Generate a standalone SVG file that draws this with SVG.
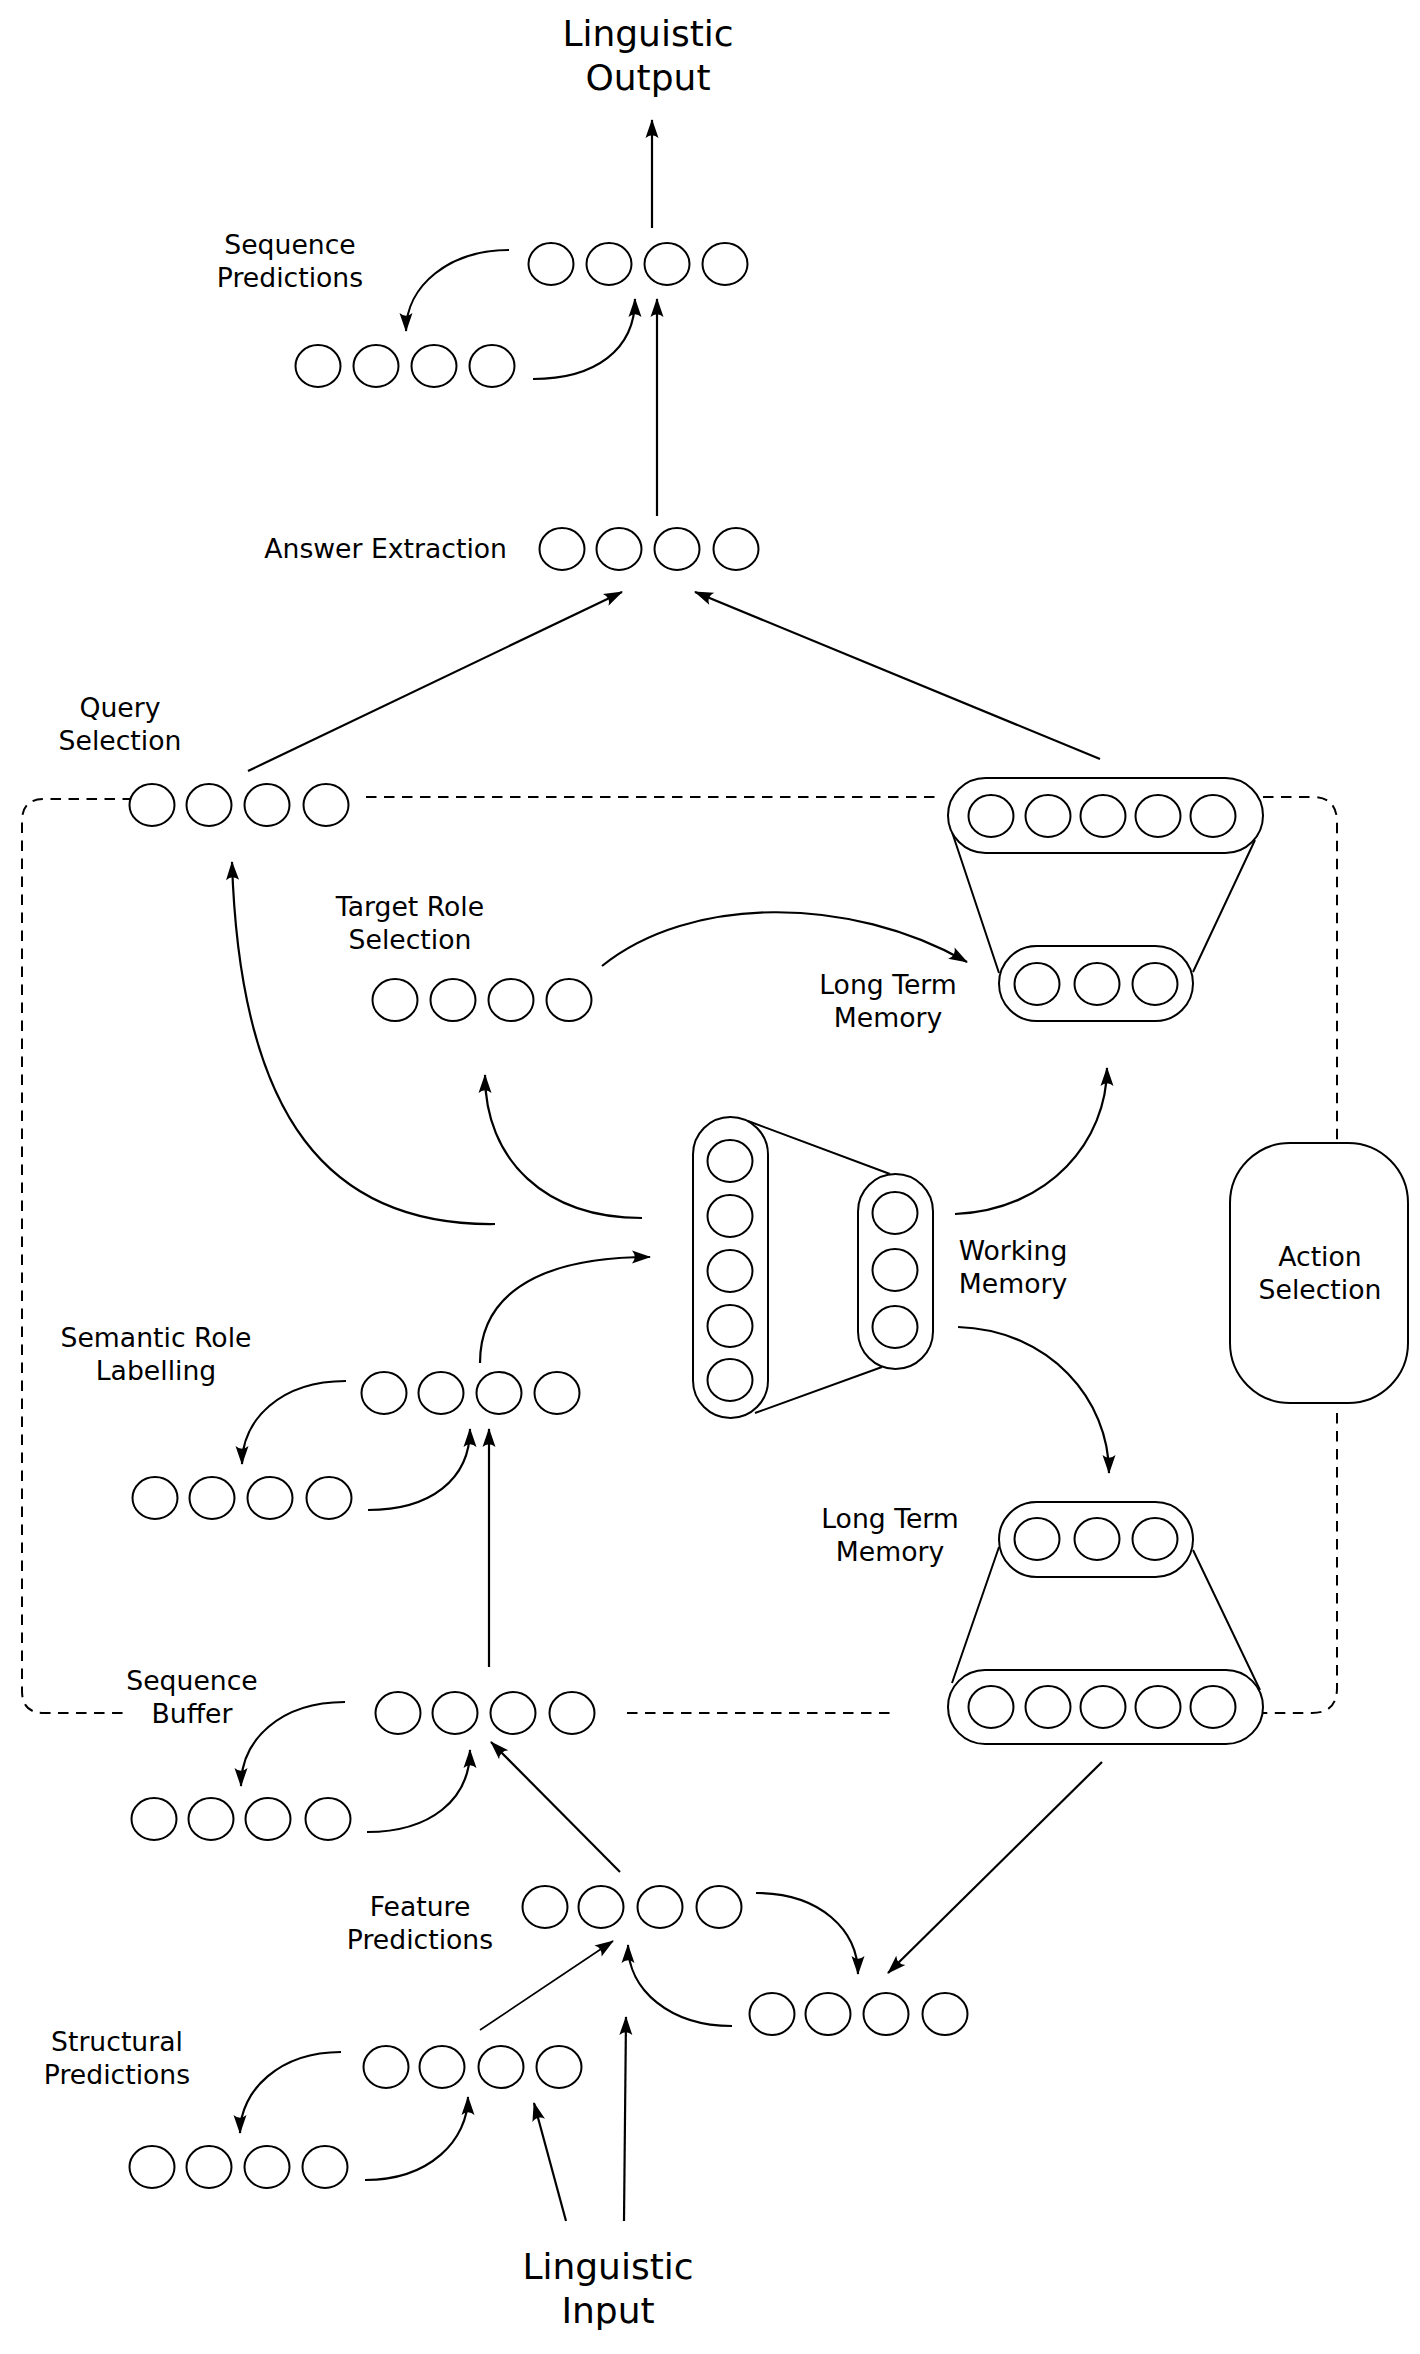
<svg xmlns="http://www.w3.org/2000/svg" width="1420" height="2354" viewBox="0 0 1420 2354">
<style>
.u{fill:#fff;stroke:#000;stroke-width:2}
.n{fill:none;stroke:#000;stroke-width:2}
.c{fill:none;stroke:#000;stroke-width:2.2}
.thin{fill:none;stroke:#000;stroke-width:1.7}
.d{fill:none;stroke:#000;stroke-width:2;stroke-dasharray:10.5,7.5}
text{font-family:"DejaVu Sans","Liberation Sans",sans-serif;font-size:26.67px;fill:#000;text-anchor:middle}
.big{font-size:36px}
</style>
<defs>
<marker id="ah" markerUnits="userSpaceOnUse" viewBox="-20 -8 23 16" markerWidth="23" markerHeight="16" refX="0" refY="0" orient="auto" overflow="visible">
<path d="M1,0 L-18,-6.5 Q-12.5,0 -18,6.5 Z" fill="#000"/>
</marker>
</defs>
<rect width="1420" height="2354" fill="#fff"/>

<g id="dashed-frame">
<path class="d" d="M133,799 H44 Q22,799 22,821 V1691 Q22,1713 44,1713 H129"/>
<path class="d" d="M366,797 H938"/>
<path class="d" d="M1263,797 H1312 Q1337,797 1337,822 V1143"/>
<path class="d" d="M1337,1413 V1688 Q1337,1713 1312,1713 H1262"/>
<path class="d" d="M627,1713 H893"/>
</g>

<g id="connectors">
<path class="c" marker-end="url(#ah)" d="M652,228 V120"/>
<path class="c" marker-end="url(#ah)" d="M509,250 C450,250 406,285 406,331"/>
<path class="c" marker-end="url(#ah)" d="M533,379 C595,379 635,350 635,299"/>
<path class="c" marker-end="url(#ah)" d="M657,516 V299"/>
<path class="c" marker-end="url(#ah)" d="M248,771 L622,592"/>
<path class="c" marker-end="url(#ah)" d="M1100,759 L695,592"/>
<path class="c" marker-end="url(#ah)" d="M602,966 C690,895 850,895 967,962"/>
<path class="c" marker-end="url(#ah)" d="M955,1214 C1050,1210 1107,1140 1107,1068"/>
<path class="c" marker-end="url(#ah)" d="M958,1327 C1050,1330 1109,1400 1109,1473"/>
<path class="c" marker-end="url(#ah)" d="M642,1218 C545,1218 485,1160 485,1075"/>
<path class="c" marker-end="url(#ah)" d="M495,1224 C330,1226 240,1120 232,862"/>
<path class="c" marker-end="url(#ah)" d="M480,1363 C480,1300 530,1257 650,1257"/>
<path class="c" marker-end="url(#ah)" d="M346,1381 C280,1381 242,1420 242,1464"/>
<path class="c" marker-end="url(#ah)" d="M368,1510 C430,1510 470,1480 470,1429"/>
<path class="c" marker-end="url(#ah)" d="M489,1667 V1429"/>
<path class="c" marker-end="url(#ah)" d="M345,1702 C280,1702 241,1740 241,1786"/>
<path class="c" marker-end="url(#ah)" d="M367,1832 C430,1832 470,1800 470,1750"/>
<path class="c" marker-end="url(#ah)" d="M620,1872 L491,1742"/>
<path class="c" marker-end="url(#ah)" d="M756,1893 C820,1893 858,1930 858,1974"/>
<path class="c" marker-end="url(#ah)" d="M1102,1762 L888,1973"/>
<path class="c" marker-end="url(#ah)" d="M732,2026 C670,2026 628,1990 628,1945"/>
<path class="thin" marker-end="url(#ah)" d="M480,2030 L613,1941"/>
<path class="c" marker-end="url(#ah)" d="M341,2052 C280,2052 240,2090 240,2133"/>
<path class="c" marker-end="url(#ah)" d="M365,2180 C430,2180 468,2140 468,2097"/>
<path class="c" marker-end="url(#ah)" d="M566,2221 L534,2103"/>
<path class="c" marker-end="url(#ah)" d="M624,2221 L626,2017"/>
</g>

<g id="linguistic-output">
<text class="big" x="648" y="46">Linguistic</text>
<text class="big" x="648" y="90">Output</text>
</g>

<g id="sequence-predictions">
<text x="290" y="254">Sequence</text>
<text x="290" y="287">Predictions</text>
<ellipse class="u" cx="551" cy="264" rx="22.5" ry="21"/>
<ellipse class="u" cx="609" cy="264" rx="22.5" ry="21"/>
<ellipse class="u" cx="667" cy="264" rx="22.5" ry="21"/>
<ellipse class="u" cx="725" cy="264" rx="22.5" ry="21"/>
</g>
<g id="sequence-predictions-lower">
<ellipse class="u" cx="318" cy="366" rx="22.5" ry="21"/>
<ellipse class="u" cx="376" cy="366" rx="22.5" ry="21"/>
<ellipse class="u" cx="434" cy="366" rx="22.5" ry="21"/>
<ellipse class="u" cx="492" cy="366" rx="22.5" ry="21"/>
</g>

<g id="answer-extraction">
<text x="507" y="558" style="text-anchor:end">Answer Extraction</text>
<ellipse class="u" cx="562" cy="549" rx="22.5" ry="21"/>
<ellipse class="u" cx="619" cy="549" rx="22.5" ry="21"/>
<ellipse class="u" cx="677" cy="549" rx="22.5" ry="21"/>
<ellipse class="u" cx="736" cy="549" rx="22.5" ry="21"/>
</g>

<g id="query-selection">
<text x="120" y="717">Query</text>
<text x="120" y="750">Selection</text>
<ellipse class="u" cx="152" cy="805" rx="22.5" ry="21"/>
<ellipse class="u" cx="209" cy="805" rx="22.5" ry="21"/>
<ellipse class="u" cx="267" cy="805" rx="22.5" ry="21"/>
<ellipse class="u" cx="326" cy="805" rx="22.5" ry="21"/>
</g>

<g id="target-role-selection">
<text x="410" y="916">Target Role</text>
<text x="410" y="949">Selection</text>
<ellipse class="u" cx="395" cy="1000" rx="22.5" ry="21"/>
<ellipse class="u" cx="453" cy="1000" rx="22.5" ry="21"/>
<ellipse class="u" cx="511" cy="1000" rx="22.5" ry="21"/>
<ellipse class="u" cx="569" cy="1000" rx="22.5" ry="21"/>
</g>

<g id="long-term-memory-upper">
<text x="888" y="994">Long Term</text>
<text x="888" y="1027">Memory</text>
<path class="n" d="M952,832 L999,973 M1255,840 L1193,972"/>
<rect class="u" x="948" y="778" width="315" height="75" rx="37.5"/>
<ellipse class="u" cx="991" cy="816" rx="22.5" ry="21"/>
<ellipse class="u" cx="1048" cy="816" rx="22.5" ry="21"/>
<ellipse class="u" cx="1103" cy="816" rx="22.5" ry="21"/>
<ellipse class="u" cx="1158" cy="816" rx="22.5" ry="21"/>
<ellipse class="u" cx="1213" cy="816" rx="22.5" ry="21"/>
<rect class="u" x="999" y="946" width="194" height="75" rx="37.5"/>
<ellipse class="u" cx="1037" cy="984" rx="22.5" ry="21"/>
<ellipse class="u" cx="1097" cy="984" rx="22.5" ry="21"/>
<ellipse class="u" cx="1155" cy="984" rx="22.5" ry="21"/>
</g>

<g id="working-memory">
<text x="1013" y="1260">Working</text>
<text x="1013" y="1293">Memory</text>
<path class="n" d="M748,1121 L890,1174 M755,1413 L882,1367"/>
<rect class="u" x="693" y="1117" width="75" height="301" rx="37.5"/>
<ellipse class="u" cx="730" cy="1161" rx="22.5" ry="21"/>
<ellipse class="u" cx="730" cy="1216" rx="22.5" ry="21"/>
<ellipse class="u" cx="730" cy="1271" rx="22.5" ry="21"/>
<ellipse class="u" cx="730" cy="1326" rx="22.5" ry="21"/>
<ellipse class="u" cx="730" cy="1380" rx="22.5" ry="21"/>
<rect class="u" x="858" y="1174" width="75" height="195" rx="37.5"/>
<ellipse class="u" cx="895" cy="1213" rx="22.5" ry="21"/>
<ellipse class="u" cx="895" cy="1270" rx="22.5" ry="21"/>
<ellipse class="u" cx="895" cy="1327" rx="22.5" ry="21"/>
</g>

<g id="action-selection">
<rect class="u" x="1230" y="1143" width="178" height="260" rx="60"/>
<text x="1320" y="1266">Action</text>
<text x="1320" y="1299">Selection</text>
</g>

<g id="semantic-role-labelling">
<text x="156" y="1347">Semantic Role</text>
<text x="156" y="1380">Labelling</text>
<ellipse class="u" cx="384" cy="1393" rx="22.5" ry="21"/>
<ellipse class="u" cx="441" cy="1393" rx="22.5" ry="21"/>
<ellipse class="u" cx="499" cy="1393" rx="22.5" ry="21"/>
<ellipse class="u" cx="557" cy="1393" rx="22.5" ry="21"/>
</g>
<g id="semantic-role-labelling-lower">
<ellipse class="u" cx="155" cy="1498" rx="22.5" ry="21"/>
<ellipse class="u" cx="212" cy="1498" rx="22.5" ry="21"/>
<ellipse class="u" cx="270" cy="1498" rx="22.5" ry="21"/>
<ellipse class="u" cx="329" cy="1498" rx="22.5" ry="21"/>
</g>

<g id="long-term-memory-lower">
<text x="890" y="1528">Long Term</text>
<text x="890" y="1561">Memory</text>
<path class="n" d="M999,1547 L952,1683 M1193,1550 L1260,1690"/>
<rect class="u" x="999" y="1502" width="194" height="75" rx="37.5"/>
<ellipse class="u" cx="1037" cy="1539" rx="22.5" ry="21"/>
<ellipse class="u" cx="1097" cy="1539" rx="22.5" ry="21"/>
<ellipse class="u" cx="1155" cy="1539" rx="22.5" ry="21"/>
<rect class="u" x="948" y="1670" width="315" height="74" rx="37"/>
<ellipse class="u" cx="991" cy="1707" rx="22.5" ry="21"/>
<ellipse class="u" cx="1048" cy="1707" rx="22.5" ry="21"/>
<ellipse class="u" cx="1103" cy="1707" rx="22.5" ry="21"/>
<ellipse class="u" cx="1158" cy="1707" rx="22.5" ry="21"/>
<ellipse class="u" cx="1213" cy="1707" rx="22.5" ry="21"/>
</g>

<g id="sequence-buffer">
<text x="192" y="1690">Sequence</text>
<text x="192" y="1723">Buffer</text>
<ellipse class="u" cx="398" cy="1713" rx="22.5" ry="21"/>
<ellipse class="u" cx="455" cy="1713" rx="22.5" ry="21"/>
<ellipse class="u" cx="513" cy="1713" rx="22.5" ry="21"/>
<ellipse class="u" cx="572" cy="1713" rx="22.5" ry="21"/>
</g>
<g id="sequence-buffer-lower">
<ellipse class="u" cx="154" cy="1819" rx="22.5" ry="21"/>
<ellipse class="u" cx="211" cy="1819" rx="22.5" ry="21"/>
<ellipse class="u" cx="268" cy="1819" rx="22.5" ry="21"/>
<ellipse class="u" cx="328" cy="1819" rx="22.5" ry="21"/>
</g>

<g id="feature-predictions">
<text x="420" y="1916">Feature</text>
<text x="420" y="1949">Predictions</text>
<ellipse class="u" cx="545" cy="1907" rx="22.5" ry="21"/>
<ellipse class="u" cx="601" cy="1907" rx="22.5" ry="21"/>
<ellipse class="u" cx="660" cy="1907" rx="22.5" ry="21"/>
<ellipse class="u" cx="719" cy="1907" rx="22.5" ry="21"/>
</g>
<g id="feature-context">
<ellipse class="u" cx="772" cy="2014" rx="22.5" ry="21"/>
<ellipse class="u" cx="828" cy="2014" rx="22.5" ry="21"/>
<ellipse class="u" cx="886" cy="2014" rx="22.5" ry="21"/>
<ellipse class="u" cx="945" cy="2014" rx="22.5" ry="21"/>
</g>

<g id="structural-predictions">
<text x="117" y="2051">Structural</text>
<text x="117" y="2084">Predictions</text>
<ellipse class="u" cx="386" cy="2067" rx="22.5" ry="21"/>
<ellipse class="u" cx="442" cy="2067" rx="22.5" ry="21"/>
<ellipse class="u" cx="501" cy="2067" rx="22.5" ry="21"/>
<ellipse class="u" cx="559" cy="2067" rx="22.5" ry="21"/>
</g>
<g id="structural-predictions-lower">
<ellipse class="u" cx="152" cy="2167" rx="22.5" ry="21"/>
<ellipse class="u" cx="209" cy="2167" rx="22.5" ry="21"/>
<ellipse class="u" cx="267" cy="2167" rx="22.5" ry="21"/>
<ellipse class="u" cx="325" cy="2167" rx="22.5" ry="21"/>
</g>

<g id="linguistic-input">
<text class="big" x="608" y="2279">Linguistic</text>
<text class="big" x="608" y="2323">Input</text>
</g>
</svg>
